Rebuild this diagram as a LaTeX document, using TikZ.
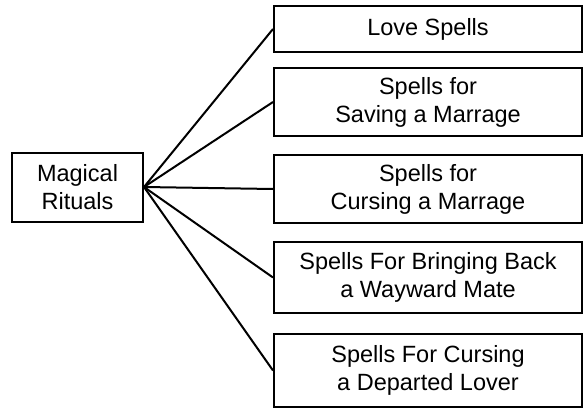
\documentclass[tikz,border=0pt]{standalone}
\usepackage{fontspec}
\setmainfont{Liberation Sans}
\usepackage{tikz}
\usetikzlibrary{positioning}
\tikzset{
  link/.style={line width=2pt,draw=black},
  rootbox/.style={draw=black,line width=2pt,fill=white,align=center,inner sep=0pt,minimum width=131pt,minimum height=69pt,font=\fontsize{23.5}{28}\selectfont},
  spellbox/.style={draw=black,line width=2pt,fill=white,align=center,inner sep=0pt,minimum width=308pt,font=\fontsize{23.5}{28}\selectfont},
}

\begin{document}
\begin{tikzpicture}[x=1pt,y=-1pt]
  \path[use as bounding box] (0,0) rectangle (583,409);
  \node[rootbox] (rit) at (77.5,187) {Magical\\Rituals};
  \node[spellbox,minimum height=46pt] (love) at (428,29) {Love Spells};
  \node[spellbox,minimum height=68pt] (save) at (428,102) {Spells for\\Saving a Marrage};
  \node[spellbox,minimum height=68pt] (curse) at (428,189) {Spells for\\Cursing a Marrage};
  \node[spellbox,minimum height=71pt] (mate) at (428,277.5) {Spells For Bringing Back\\a Wayward Mate};
  \node[spellbox,minimum height=73pt] (lover) at (428,370.5) {Spells For Cursing\\a Departed Lover};
  \draw[link] (rit.east) -- (love.west);
  \draw[link] (rit.east) -- (save.west);
  \draw[link] (rit.east) -- (curse.west);
  \draw[link] (rit.east) -- (mate.west);
  \draw[link] (rit.east) -- (lover.west);
\end{tikzpicture}
\end{document}
